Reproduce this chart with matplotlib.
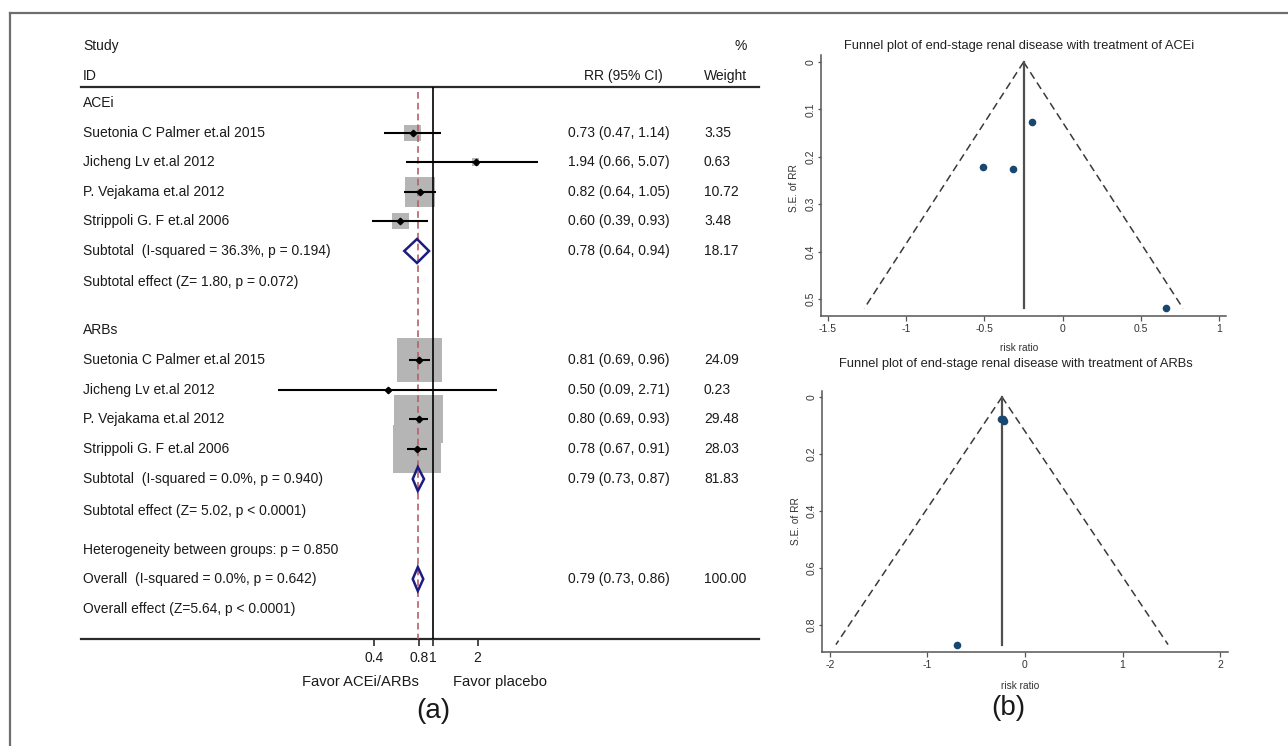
import numpy as np
import matplotlib
matplotlib.use("Agg")
import matplotlib.pyplot as plt
from matplotlib.patches import Polygon
from matplotlib.lines import Line2D

plt.rcParams['font.family'] = ['Liberation Sans', 'DejaVu Sans']

# ---------------- data ----------------
study_names = ["Suetonia C Palmer et.al 2015", "Jicheng Lv et.al 2012",
               "P. Vejakama et.al 2012", "Strippoli G. F et.al 2006"]

acei_rr = [0.73, 1.94, 0.82, 0.60]
acei_lo = [0.47, 0.66, 0.64, 0.39]
acei_hi = [1.14, 5.07, 1.05, 0.93]
acei_wt = [3.35, 0.63, 10.72, 3.48]
acei_subtotal = [0.78, 0.64, 0.94, 18.17]

arb_rr = [0.81, 0.50, 0.80, 0.78]
arb_lo = [0.69, 0.09, 0.69, 0.67]
arb_hi = [0.96, 2.71, 0.93, 0.91]
arb_wt = [24.09, 0.23, 29.48, 28.03]
arb_subtotal = [0.79, 0.73, 0.87, 81.83]

overall = [0.79, 0.73, 0.86, 100.00]

acei_sub_label = "Subtotal  (I-squared = 36.3%, p = 0.194)"
acei_eff_label = "Subtotal effect (Z= 1.80, p = 0.072)"
arb_sub_label = "Subtotal  (I-squared = 0.0%, p = 0.940)"
arb_eff_label = "Subtotal effect (Z= 5.02, p < 0.0001)"
het_label = "Heterogeneity between groups: p = 0.850"
overall_label = "Overall  (I-squared = 0.0%, p = 0.642)"
overall_eff_label = "Overall effect (Z=5.64, p < 0.0001)"

forest_ticks = [0.4, 0.8, 1, 2]
forest_tick_labels = ["0.4", "0.8", "1", "2"]

funnel_acei_logrr = [-0.315, 0.663, -0.198, -0.511]
funnel_acei_se = [0.226, 0.520, 0.126, 0.222]
funnel_acei_pooled = -0.249
funnel_acei_xticks = [-1.5, -1, -0.5, 0, 0.5, 1]
funnel_acei_xticklabels = ["-1.5", "-1", "-0.5", "0", "0.5", "1"]
funnel_acei_yticks = [0, 0.1, 0.2, 0.3, 0.4, 0.5]
funnel_acei_yticklabels = ["0", "0.1", "0.2", "0.3", "0.4", "0.5"]

funnel_arb_logrr = [-0.211, -0.693, -0.223, -0.248]
funnel_arb_se = [0.084, 0.869, 0.076, 0.078]
funnel_arb_pooled = -0.236
funnel_arb_xticks = [-2, -1, 0, 1, 2]
funnel_arb_xticklabels = ["-2", "-1", "0", "1", "2"]
funnel_arb_yticks = [0, 0.2, 0.4, 0.6, 0.8]
funnel_arb_yticklabels = ["0", "0.2", "0.4", "0.6", "0.8"]

# ---------------- layout helpers ----------------
W, H = 1288, 746
fig = plt.figure(figsize=(W / 100, H / 100), dpi=100)
fig.patch.set_facecolor("white")

def fx(x):
    return x / W

def fy(y):
    return 1 - y / H

def axes_px(x0, y0, x1, y1):
    return fig.add_axes([x0 / W, 1 - y1 / H, (x1 - x0) / W, (y1 - y0) / H])

TXT = "#1a1a1a"
FS = 10

# frame
fig.add_artist(Line2D([fx(10), fx(10)], [fy(13), 0], color="#6e6e6e", lw=1.6))
fig.add_artist(Line2D([fx(10), 1], [fy(13), fy(13)], color="#6e6e6e", lw=1.6))

# ---------------- forest plot ----------------
AX_L, AX_R, AX_T, AX_B = 81, 759, 87, 639
X_ONE, PX_PER_LN = 433, 64.4
ax = axes_px(AX_L, AX_T, AX_R, AX_B)
ax.set_xscale("log")
ax.set_xlim(np.exp((AX_L - X_ONE) / PX_PER_LN), np.exp((AX_R - X_ONE) / PX_PER_LN))
ax.set_ylim(AX_B, AX_T)
ax.patch.set_alpha(0)

acei_rows = [133, 162, 192, 221]
arb_rows = [360, 390, 419, 449]
row_acei_hdr, row_acei_sub, row_acei_eff = 103, 251, 282
row_arb_hdr, row_arb_sub, row_arb_eff = 330, 479, 511
row_het, row_overall, row_overall_eff = 550, 579, 609

BOX_K = 42.2  # marker area per % weight

def draw_group(rows, rr, lo, hi, wt):
    ax.scatter(rr, rows, marker="s", s=[BOX_K * w for w in wt], c="#b5b5b5",
               linewidths=0, zorder=2)
    ax.hlines(rows, lo, hi, color="black", lw=1.5, zorder=4)
    ax.plot(rr, rows, "D", ms=3.3, color="black", zorder=5)

def draw_diamond(y, est, lo, hi):
    ax.add_patch(Polygon([(lo, y), (est, y - 12), (hi, y), (est, y + 12)],
                         closed=True, fill=False, ec="#1c1c80", lw=1.8, zorder=6))

draw_group(acei_rows, acei_rr, acei_lo, acei_hi, acei_wt)
draw_group(arb_rows, arb_rr, arb_lo, arb_hi, arb_wt)
draw_diamond(row_acei_sub, *acei_subtotal[:3])
draw_diamond(row_arb_sub, *arb_subtotal[:3])
draw_diamond(row_overall, *overall[:3])

ax.plot([1, 1], [AX_T, AX_B], color="black", lw=1.2, zorder=3)
ax.plot([overall[0]] * 2, [AX_T + 5, AX_B], color="#b5606a", lw=1.2,
        ls=(0, (4, 2.5)), zorder=3)

for s in ["left", "right"]:
    ax.spines[s].set_visible(False)
for s in ["top", "bottom"]:
    ax.spines[s].set_color("#2a2a2a")
    ax.spines[s].set_linewidth(1.6)
ax.set_yticks([])
ax.set_xticks(forest_ticks)
ax.set_xticklabels(forest_tick_labels)
ax.xaxis.set_minor_locator(matplotlib.ticker.NullLocator())
ax.tick_params(axis="x", which="major", direction="out", length=5, width=1.2,
               labelsize=FS, pad=4, colors="#2a2a2a", labelcolor=TXT)

def ftxt(x, y, s, ha="left", size=FS, **kw):
    fig.text(fx(x), fy(y), s, ha=ha, va="center", fontsize=size, color=TXT, **kw)

def ci_text(est, lo, hi):
    return f"{est:.2f} ({lo:.2f}, {hi:.2f})"

X_LAB, X_CI, X_WT = 83, 568, 704
ftxt(X_LAB, 46, "Study")
ftxt(X_LAB, 76, "ID")
ftxt(747, 46, "%", ha="right")
ftxt(584, 76, "RR (95% CI)")
ftxt(747, 76, "Weight", ha="right")

ftxt(X_LAB, row_acei_hdr, "ACEi")
for y, n, e, l, h, w in zip(acei_rows, study_names, acei_rr, acei_lo, acei_hi, acei_wt):
    ftxt(X_LAB, y, n)
    ftxt(X_CI, y, ci_text(e, l, h))
    ftxt(X_WT, y, f"{w:.2f}")
ftxt(X_LAB, row_acei_sub, acei_sub_label)
ftxt(X_CI, row_acei_sub, ci_text(*acei_subtotal[:3]))
ftxt(X_WT, row_acei_sub, f"{acei_subtotal[3]:.2f}")
ftxt(X_LAB, row_acei_eff, acei_eff_label)

ftxt(X_LAB, row_arb_hdr, "ARBs")
for y, n, e, l, h, w in zip(arb_rows, study_names, arb_rr, arb_lo, arb_hi, arb_wt):
    ftxt(X_LAB, y, n)
    ftxt(X_CI, y, ci_text(e, l, h))
    ftxt(X_WT, y, f"{w:.2f}")
ftxt(X_LAB, row_arb_sub, arb_sub_label)
ftxt(X_CI, row_arb_sub, ci_text(*arb_subtotal[:3]))
ftxt(X_WT, row_arb_sub, f"{arb_subtotal[3]:.2f}")
ftxt(X_LAB, row_arb_eff, arb_eff_label)

ftxt(X_LAB, row_het, het_label)
ftxt(X_LAB, row_overall, overall_label)
ftxt(X_CI, row_overall, ci_text(*overall[:3]))
ftxt(X_WT, row_overall, f"{overall[3]:.2f}")
ftxt(X_LAB, row_overall_eff, overall_eff_label)

ftxt(419, 682, "Favor ACEi/ARBs", ha="right", size=10.6)
ftxt(453, 682, "Favor placebo", ha="left", size=10.6)
ftxt(433, 711, "(a)", ha="center", size=20)

# ---------------- funnel plots ----------------
def funnel(rect, xlim, ylim, logrr, se, pooled, xticks, xtl, yticks, ytl):
    a = axes_px(*rect)
    a.patch.set_alpha(0)
    a.set_xlim(*xlim)
    a.set_ylim(*ylim)
    semax = max(se)
    a.plot([pooled, pooled - 1.96 * semax], [0, semax], color="#3a3a3a", lw=1.1,
           ls=(0, (5, 3)))
    a.plot([pooled, pooled + 1.96 * semax], [0, semax], color="#3a3a3a", lw=1.1,
           ls=(0, (5, 3)))
    a.plot([pooled, pooled], [0, semax], color="#505050", lw=1.6)
    a.scatter(logrr, se, s=30, color="#1a476f", zorder=4, linewidths=0)
    for s in ["top", "right"]:
        a.spines[s].set_visible(False)
    for s in ["left", "bottom"]:
        a.spines[s].set_color("#555555")
        a.spines[s].set_linewidth(1.1)
    a.set_xticks(xticks)
    a.set_xticklabels(xtl)
    a.set_yticks(yticks)
    a.set_yticklabels(ytl, rotation=90, va="center")
    a.tick_params(axis="x", direction="out", length=3.5, width=0.9,
                  colors="#555555", labelcolor="#333333", labelsize=7.5, pad=2.5)
    a.tick_params(axis="y", direction="out", length=2.5, width=0.9,
                  colors="#555555", labelcolor="#333333", labelsize=7.5, pad=1.2)
    return a

funnel((821, 55, 1226, 316), (-1.5448, 1.0448), (0.536, -0.0148),
       funnel_acei_logrr, funnel_acei_se, funnel_acei_pooled,
       funnel_acei_xticks, funnel_acei_xticklabels,
       funnel_acei_yticks, funnel_acei_yticklabels)
funnel((822, 391, 1228, 652), (-2.082, 2.082), (0.895, -0.021),
       funnel_arb_logrr, funnel_arb_se, funnel_arb_pooled,
       funnel_arb_xticks, funnel_arb_xticklabels,
       funnel_arb_yticks, funnel_arb_yticklabels)

def small(x, y, s, size=7.3, rot=0, color="#333333"):
    fig.text(fx(x), fy(y), s, ha="center", va="center", fontsize=size,
             rotation=rot, color=color)

small(1019, 46, "Funnel plot of end-stage renal disease with treatment of ACEi",
      size=9.3, color="#222222")
small(1016, 364, "Funnel plot of end-stage renal disease with treatment of ARBs",
      size=9.3, color="#222222")
small(1019, 348, "risk ratio")
small(1020, 686, "risk ratio")
small(794, 188, "S.E. of RR", rot=90)
small(796, 521, "S.E. of RR", rot=90)
ftxt(1008, 708, "(b)", ha="center", size=20)

fig.savefig("out.png", dpi=100)
